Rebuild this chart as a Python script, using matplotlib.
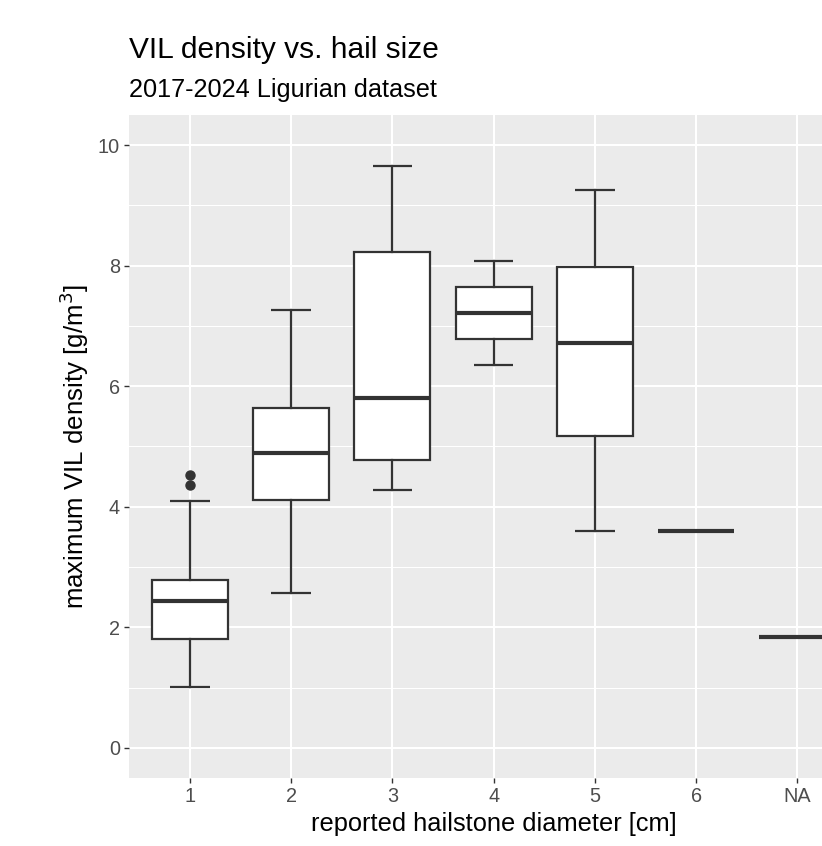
import matplotlib
matplotlib.use("Agg")
import matplotlib.pyplot as plt

plt.rcParams['font.family'] = ['Liberation Sans', 'DejaVu Sans']

# ---- data ----
categories = ["1", "2", "3", "4", "5", "6", "NA"]
whisker_low = [1.01, 2.57, 4.28, 6.36, 3.60, 3.60, 1.84]
q1_values = [1.81, 4.11, 4.78, 6.78, 5.17, 3.60, 1.84]
median_values = [2.44, 4.89, 5.80, 7.21, 6.72, 3.60, 1.84]
q3_values = [2.78, 5.64, 8.23, 7.64, 7.98, 3.60, 1.84]
whisker_high = [4.10, 7.26, 9.65, 8.07, 9.26, 3.60, 1.84]
outliers = [[4.36, 4.52], [], [], [], [], [], []]

title = "VIL density vs. hail size"
subtitle = "2017-2024 Ligurian dataset"
xlabel = "reported hailstone diameter [cm]"
ylabel = "maximum VIL density [g/m$^3$]"

W, H = 822, 846
fig = plt.figure(figsize=(W / 100, H / 100), dpi=100)
fig.patch.set_facecolor("white")

left, right, top, bottom = 129.3, 858.0, 115.0, 778.0
ax = fig.add_axes([left / W, 1 - bottom / H, (right - left) / W, (bottom - top) / H])
ax.set_facecolor("#EBEBEB")
for s in ax.spines.values():
    s.set_visible(False)

positions = list(range(1, len(categories) + 1))
stats = []
for i in range(len(categories)):
    stats.append(dict(med=median_values[i], q1=q1_values[i], q3=q3_values[i],
                      whislo=whisker_low[i], whishi=whisker_high[i],
                      fliers=outliers[i], label=categories[i]))

line_col = "#333333"
ax.bxp(stats, positions=positions, widths=0.75, capwidths=0.39,
       patch_artist=True, manage_ticks=False,
       boxprops=dict(facecolor="white", edgecolor=line_col, linewidth=1.6),
       medianprops=dict(color=line_col, linewidth=3.0, solid_capstyle="butt"),
       whiskerprops=dict(color=line_col, linewidth=1.6),
       capprops=dict(color=line_col, linewidth=1.6, solid_capstyle="butt"),
       flierprops=dict(marker="o", markerfacecolor=line_col, markeredgecolor=line_col,
                       markersize=6.5, linestyle="none"),
       zorder=3)

ax.set_xlim(0.4, len(categories) + 0.6)
ax.set_ylim(-0.5, 10.5)
ax.set_xticks(positions)
ax.set_xticklabels(categories)
ax.set_yticks([0, 2, 4, 6, 8, 10])
ax.set_yticks([1, 3, 5, 7, 9], minor=True)

ax.grid(True, which="major", color="white", linewidth=1.5, zorder=0)
ax.grid(True, which="minor", axis="y", color="white", linewidth=0.75, zorder=0)
ax.set_axisbelow(True)

ax.tick_params(axis="both", which="major", length=3.3, width=1.0, color=line_col,
               labelcolor="#4D4D4D", labelsize=14.3, pad=3.5)
ax.tick_params(axis="both", which="minor", length=0)

ax.set_xlabel(xlabel, fontsize=18.3, color="black", labelpad=4)
ax.set_ylabel(ylabel, fontsize=18.6, color="black", labelpad=5)

fig.text(left / W, 1 - 58.3 / H, title, fontsize=21.5, color="black",
         ha="left", va="baseline")
fig.text(left / W, 1 - 96.7 / H, subtitle, fontsize=18.2, color="black",
         ha="left", va="baseline")

fig.savefig("out.png", dpi=100)
